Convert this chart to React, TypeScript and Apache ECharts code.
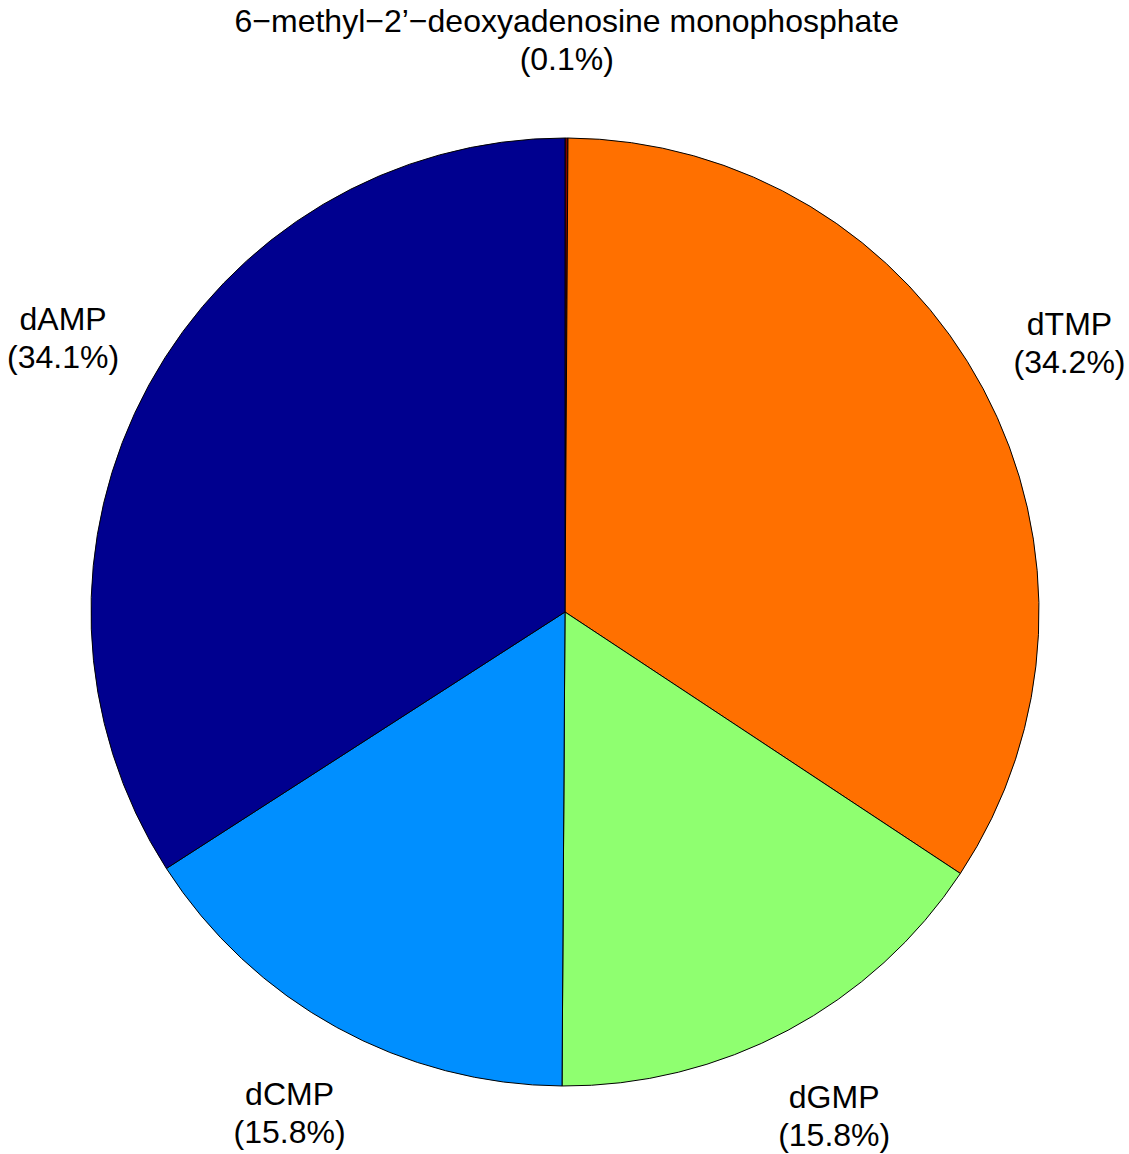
import React, { useEffect, useRef } from "react";
import * as echarts from "echarts";

const categories = [
  "6\u2212methyl\u22122\u2019\u2212deoxyadenosine monophosphate",
  "dTMP",
  "dGMP",
  "dCMP",
  "dAMP",
];
const values = [0.1, 34.2, 15.8, 15.8, 34.1];
const percentLabels = ["0.1%", "34.2%", "15.8%", "15.8%", "34.1%"];
const colors = ["#800000", "#FF7000", "#8FFF70", "#008FFF", "#00008F"];

const CX = 565;
const CY = 612;
const R = 474;

export default function App() {
  const ref = useRef<HTMLDivElement>(null);
  useEffect(() => {
    if (!ref.current) return;
    const chart = echarts.init(ref.current, null, { renderer: "svg" });
    const data = categories.map((name, i) => ({
      name,
      value: values[i],
      itemStyle: { color: colors[i] },
    }));
    chart.setOption({
      animation: false,
      backgroundColor: "#ffffff",
      series: [
        {
          type: "pie",
          center: [CX, CY],
          radius: [0, R],
          startAngle: 90,
          clockwise: true,
          minAngle: 0,
          avoidLabelOverlap: false,
          silent: true,
          label: { show: false },
          labelLine: { show: false },
          itemStyle: { borderColor: "#000000", borderWidth: 1 },
          data,
        },
        {
          type: "pie",
          center: [CX, CY],
          radius: [0, R * 2.4],
          startAngle: 90,
          clockwise: true,
          minAngle: 0,
          avoidLabelOverlap: false,
          silent: true,
          z: 5,
          label: {
            show: true,
            position: "inner",
            rotate: 0,
            formatter: (p: any) => `${p.name}\n(${percentLabels[p.dataIndex]})`,
            fontFamily: "Liberation Sans, Arial, sans-serif",
            fontSize: 32,
            lineHeight: 38,
            color: "#000000",
            align: "center",
            verticalAlign: "middle",
          },
          labelLine: { show: false },
          itemStyle: { color: "rgba(0,0,0,0)", borderWidth: 0 },
          emphasis: { disabled: true },
          data: categories.map((name, i) => ({ name, value: values[i] })),
        },
      ],
    });
    return () => chart.dispose();
  }, []);
  return (
    <div
      ref={ref}
      style={{ position: "fixed", left: 0, top: 0, width: 1129, height: 1154 }}
    />
  );
}
